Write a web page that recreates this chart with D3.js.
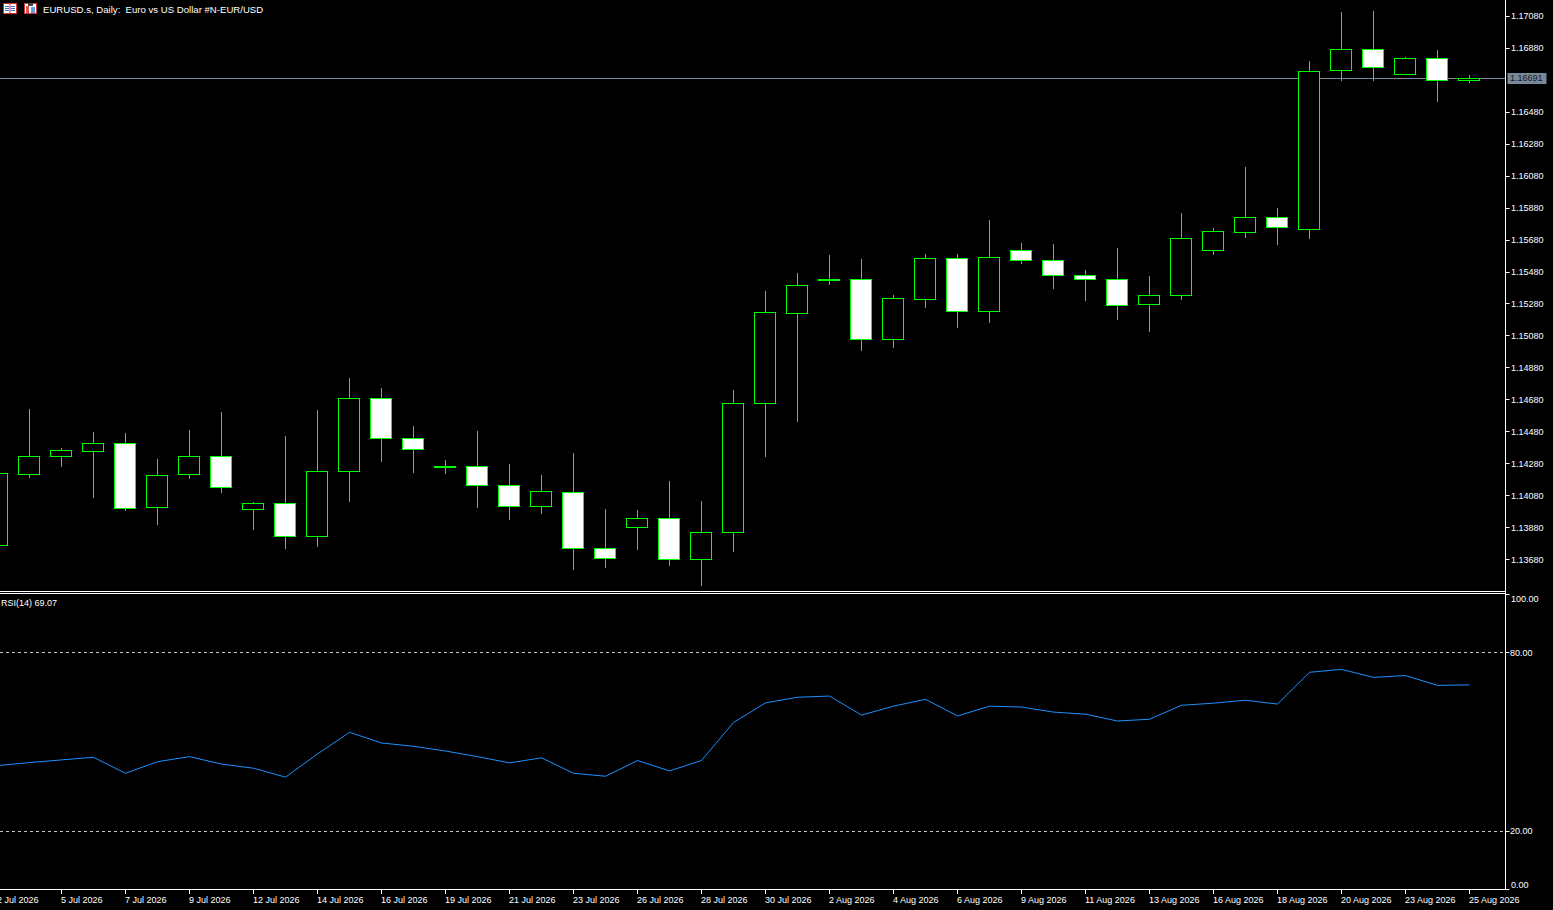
<!DOCTYPE html>
<html>
<head>
<meta charset="utf-8">
<script src="https://cdn.jsdelivr.net/npm/d3@7"></script>
<style>
  html, body { margin: 0; padding: 0; background: #000; overflow: hidden; }
  svg { display: block; }
  text { font-family: "Liberation Sans", Arial, sans-serif; font-size: 9px; fill: #fff; }
</style>
</head>
<body>
<div id="chart"></div>
<script>
// bars (daily, broker calendar Sun-Fri)
var dates = ["2 Jul 2026","3 Jul 2026","5 Jul 2026","6 Jul 2026","7 Jul 2026","8 Jul 2026","9 Jul 2026","10 Jul 2026",
  "12 Jul 2026","13 Jul 2026","14 Jul 2026","15 Jul 2026","16 Jul 2026","17 Jul 2026","19 Jul 2026","20 Jul 2026",
  "21 Jul 2026","22 Jul 2026","23 Jul 2026","24 Jul 2026","26 Jul 2026","27 Jul 2026","28 Jul 2026","29 Jul 2026",
  "30 Jul 2026","31 Jul 2026","2 Aug 2026","3 Aug 2026","4 Aug 2026","5 Aug 2026","6 Aug 2026","7 Aug 2026",
  "9 Aug 2026","10 Aug 2026","11 Aug 2026","12 Aug 2026","13 Aug 2026","14 Aug 2026","16 Aug 2026","17 Aug 2026",
  "18 Aug 2026","19 Aug 2026","20 Aug 2026","21 Aug 2026","23 Aug 2026","24 Aug 2026","25 Aug 2026"];

var opens = [1.13767,1.14215,1.14328,1.14359,1.14405,1.14009,1.14212,1.14324,1.13993,1.14030,1.13824,1.14230,
  1.14687,1.14437,1.14264,1.14262,1.14143,1.14011,1.14099,1.13749,1.13880,1.13936,1.13680,1.13849,
  1.14656,1.15222,1.15432,1.15431,1.15060,1.15310,1.15563,1.15231,1.15613,1.15550,1.15456,1.15431,
  1.15275,1.15331,1.15613,1.15725,1.15819,1.15748,1.16739,1.16870,1.16714,1.16813,1.16676];
var highs = [1.14251,1.14620,1.14376,1.14476,1.14470,1.14307,1.14489,1.14601,1.14038,1.14451,1.14614,1.14814,
  1.14751,1.14514,1.14301,1.14482,1.14276,1.14207,1.14345,1.13994,1.13988,1.14170,1.14044,1.14739,
  1.15358,1.15471,1.15583,1.15558,1.15331,1.15589,1.15589,1.15802,1.15658,1.15652,1.15489,1.15627,
  1.15452,1.15846,1.15752,1.16134,1.15877,1.16797,1.17103,1.17109,1.16822,1.16866,1.16709];
var lows = [1.13738,1.14195,1.14263,1.14071,1.13990,1.13903,1.14190,1.14103,1.13871,1.13752,1.13765,1.14046,
  1.14297,1.14228,1.14222,1.14009,1.13934,1.13971,1.13621,1.13634,1.13746,1.13646,1.13521,1.13734,
  1.14328,1.14545,1.15404,1.14991,1.15010,1.15260,1.15135,1.15166,1.15535,1.15379,1.15304,1.15185,
  1.15110,1.15310,1.15591,1.15698,1.15654,1.15691,1.16680,1.16680,1.16713,1.16548,1.16667];
var closes = [1.14218,1.14324,1.14362,1.14405,1.14003,1.14205,1.14324,1.14130,1.14030,1.13824,1.14230,1.14687,
  1.14437,1.14368,1.14266,1.14143,1.14011,1.14105,1.13749,1.13686,1.13936,1.13680,1.13849,1.14656,
  1.15225,1.15394,1.15434,1.15060,1.15312,1.15563,1.15231,1.15569,1.15550,1.15456,1.15431,1.15269,
  1.15331,1.15688,1.15731,1.15819,1.15756,1.16732,1.16870,1.16757,1.16814,1.16676,1.16691];

var rsi = [41.9,42.9,43.8,44.7,39.3,43.2,44.9,42.4,41.0,38.0,45.8,53.1,49.5,48.4,46.8,44.9,42.8,44.5,39.3,38.3,
  43.6,40.1,43.6,56.4,63.0,64.9,65.3,58.9,61.9,64.2,58.6,61.9,61.6,59.9,59.2,56.9,57.5,62.2,62.9,63.9,62.6,
  73.3,74.3,71.6,72.2,68.9,69.07];

var priceTicks = [1.13680,1.13880,1.14080,1.14280,1.14480,1.14680,1.14880,1.15080,1.15280,1.15480,
  1.15680,1.15880,1.16080,1.16280,1.16480,1.16880,1.17080];
var rsiLevels = [100, 80, 20, 0];
var rsiDashed = [80, 20];
var dateTicks = dates.filter(function(d, i) { return i % 2 === 0; });

var W = 1553, H = 910;
var axisX = 1505.5;
var mainBottom = 591;
var rsiTop = 593, rsiBottom = 889;

var svg = d3.select("#chart").append("svg")
  .attr("width", W)
  .attr("height", H);

svg.append("rect").attr("width", W).attr("height", H).attr("fill", "#000");

var data = dates.map(function(d, i) {
  return { date: d, o: opens[i], h: highs[i], l: lows[i], c: closes[i], r: rsi[i] };
});

// scales
var x = d3.scalePoint().domain(dates).range([-3, 1469]);
var y = d3.scaleLinear().domain([1.13680, 1.17080]).range([559.3, 15.7]);
var yR = d3.scaleLinear().domain([0, 100]).range([890, 593]);

var defs = svg.append("defs");
defs.append("clipPath").attr("id", "clipMain")
  .append("rect").attr("x", 0).attr("y", 0).attr("width", 1505).attr("height", mainBottom);
defs.append("clipPath").attr("id", "clipRsi")
  .append("rect").attr("x", 0).attr("y", rsiTop + 1).attr("width", 1505).attr("height", rsiBottom - rsiTop - 1);

var crisp = function(v) { return Math.round(v) + 0.5; };

// main panel
var main = svg.append("g").attr("clip-path", "url(#clipMain)");

var lastClose = closes[closes.length - 1];
main.append("line")
  .attr("x1", 0).attr("x2", 1505)
  .attr("y1", crisp(y(lastClose))).attr("y2", crisp(y(lastClose)))
  .attr("stroke", "#778899").attr("stroke-width", 1);

var candles = main.selectAll("g.candle").data(data).enter()
  .append("g").attr("class", "candle");

candles.append("line")
  .attr("x1", d => x(d.date) + 0.5)
  .attr("x2", d => x(d.date) + 0.5)
  .attr("y1", d => Math.round(y(d.h)))
  .attr("y2", d => Math.round(y(d.l)) + 1)
  .attr("stroke", "#00ff00").attr("stroke-width", 1);

candles.append("rect")
  .attr("x", d => x(d.date) - 10.5)
  .attr("width", 21)
  .attr("y", d => crisp(y(Math.max(d.o, d.c))))
  .attr("height", d => Math.max(1, Math.round(y(Math.min(d.o, d.c))) - Math.round(y(Math.max(d.o, d.c)))))
  .attr("fill", d => d.c >= d.o ? "#000" : "#fff")
  .attr("stroke", "#00ff00").attr("stroke-width", 1);

// rsi panel
var sub = svg.append("g").attr("clip-path", "url(#clipRsi)");

sub.selectAll("line.lvl").data(rsiDashed).enter()
  .append("line").attr("class", "lvl")
  .attr("x1", 0).attr("x2", 1505)
  .attr("y1", d => crisp(yR(d))).attr("y2", d => crisp(yR(d)))
  .attr("stroke", "#c8c8c8").attr("stroke-width", 1)
  .attr("stroke-dasharray", "3,3");

var rsiLine = d3.line()
  .x(d => x(d.date) + 0.5)
  .y(d => yR(d.r));

sub.append("path")
  .datum(data)
  .attr("d", rsiLine)
  .attr("fill", "none")
  .attr("stroke", "#1e90ff")
  .attr("stroke-width", 1);

// frame lines
svg.append("line").attr("x1", 0).attr("x2", axisX).attr("y1", mainBottom + 0.5).attr("y2", mainBottom + 0.5)
  .attr("stroke", "#fff");
svg.append("line").attr("x1", 0).attr("x2", axisX).attr("y1", rsiTop + 0.5).attr("y2", rsiTop + 0.5)
  .attr("stroke", "#fff");
svg.append("line").attr("x1", 0).attr("x2", axisX).attr("y1", rsiBottom + 0.5).attr("y2", rsiBottom + 0.5)
  .attr("stroke", "#fff");
svg.append("line").attr("x1", axisX).attr("x2", axisX).attr("y1", 0).attr("y2", rsiBottom + 1)
  .attr("stroke", "#fff");

// price axis
var priceAxis = svg.append("g");
priceAxis.selectAll("line").data(priceTicks).enter().append("line")
  .attr("x1", axisX).attr("x2", axisX + 4)
  .attr("y1", d => crisp(y(d))).attr("y2", d => crisp(y(d)))
  .attr("stroke", "#fff");
priceAxis.selectAll("text").data(priceTicks).enter().append("text")
  .attr("x", 1511)
  .attr("y", d => y(d) + 3.3)
  .text(d => d3.format(".5f")(d));

// bid label
svg.append("rect")
  .attr("x", 1507.5).attr("y", Math.round(y(lastClose)) - 5)
  .attr("width", 39).attr("height", 11)
  .attr("fill", "#778899");
svg.append("text")
  .attr("x", 1510).attr("y", y(lastClose) + 3.5)
  .style("fill", "#1a1a1a")
  .text(d3.format(".5f")(lastClose));

// rsi axis
var rsiAxis = svg.append("g");
rsiAxis.selectAll("line").data(rsiLevels).enter().append("line")
  .attr("x1", axisX).attr("x2", axisX + 4)
  .attr("y1", d => d === 100 ? rsiTop + 1.5 : (d === 0 ? rsiBottom + 0.5 : crisp(yR(d))))
  .attr("y2", d => d === 100 ? rsiTop + 1.5 : (d === 0 ? rsiBottom + 0.5 : crisp(yR(d))))
  .attr("stroke", "#fff");
rsiAxis.selectAll("text").data(rsiLevels).enter().append("text")
  .attr("x", d => d === 100 || d === 0 ? 1511 : 1510)
  .attr("y", d => d === 100 ? 601.5 : (d === 0 ? 887.5 : yR(d) + 3.3))
  .text(d => d3.format(".2f")(d));

// time axis
var timeAxis = svg.append("g");
timeAxis.selectAll("line").data(dateTicks).enter().append("line")
  .attr("x1", d => x(d) + 0.5).attr("x2", d => x(d) + 0.5)
  .attr("y1", rsiBottom).attr("y2", rsiBottom + 5)
  .attr("stroke", "#fff");
timeAxis.selectAll("text").data(dateTicks).enter().append("text")
  .attr("x", d => x(d))
  .attr("y", 902.5)
  .text(d => d);

// titles
svg.append("text").attr("x", 1).attr("y", 605.5)
  .text("RSI(14) " + d3.format(".2f")(rsi[rsi.length - 1]));

var icon1 = svg.append("g").attr("transform", "translate(3,3)");
icon1.append("rect").attr("x", 0.5).attr("y", 0.5).attr("width", 13).attr("height", 10)
  .attr("fill", "#fff").attr("stroke", "#d03030");
icon1.append("line").attr("x1", 7).attr("x2", 7).attr("y1", 1).attr("y2", 10).attr("stroke", "#d03030");
[3.5, 5.5, 7.5].forEach(function(v) {
  icon1.append("line").attr("x1", 2).attr("x2", 6).attr("y1", v).attr("y2", v).attr("stroke", "#3070d0");
  icon1.append("line").attr("x1", 8).attr("x2", 12).attr("y1", v).attr("y2", v).attr("stroke", "#3070d0");
});
var icon2 = svg.append("g").attr("transform", "translate(24,3)");
icon2.append("rect").attr("x", 0.5).attr("y", 0.5).attr("width", 12).attr("height", 10)
  .attr("fill", "#fff").attr("stroke", "#d03030");
icon2.append("rect").attr("x", 2).attr("y", 3).attr("width", 3).attr("height", 7).attr("fill", "#e05050");
icon2.append("rect").attr("x", 7).attr("y", 4).attr("width", 4).attr("height", 6).attr("fill", "#60a0e0");
icon2.append("rect").attr("x", 4).attr("y", 0).attr("width", 5).attr("height", 3).attr("fill", "#404040");

svg.append("text").attr("x", 43).attr("y", 13)
  .style("font-size", "9.6px")
  .style("white-space", "pre")
  .text("EURUSD.s, Daily:  Euro vs US Dollar #N-EUR/USD");
</script>
</body>
</html>
